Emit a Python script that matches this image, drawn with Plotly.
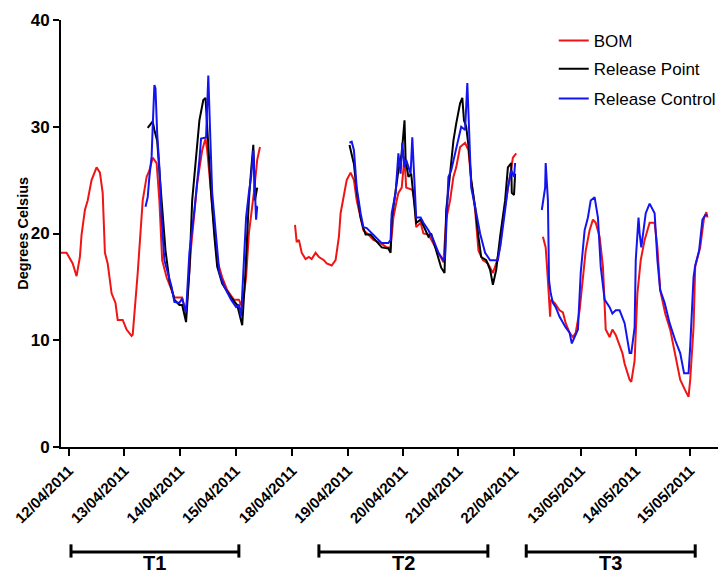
import plotly.graph_objects as go

# ---- tick labels (positions in plotted day units, axis is broken between blocks) ----
tick_pos = [0, 1, 2, 3, 4.02, 5.02, 6.02, 7.01, 8.01, 9.21, 10.2, 11.18]
tick_text = ["12/04/2011", "13/04/2011", "14/04/2011", "15/04/2011", "18/04/2011",
             "19/04/2011", "20/04/2011", "21/04/2011", "22/04/2011", "13/05/2011",
             "14/05/2011", "15/05/2011"]

# ---- BOM (red) ----
bom_x1 = [-0.14, -0.04, 0.07, 0.14, 0.20, 0.23, 0.29, 0.34, 0.41, 0.50, 0.56, 0.61, 0.65, 0.70,
          0.77, 0.84, 0.88, 0.97, 1.04, 1.13, 1.15, 1.24, 1.33, 1.40, 1.45, 1.51, 1.58, 1.63,
          1.68, 1.76, 1.85, 1.90, 1.99, 2.04, 2.11, 2.20, 2.31, 2.40, 2.46, 2.49, 2.56, 2.62,
          2.67, 2.76, 2.85, 2.97, 3.06, 3.12, 3.19, 3.24, 3.33, 3.39, 3.44]
bom_y1 = [18.2, 18.2, 17.2, 16.0, 17.8, 19.9, 22.2, 23.1, 25.0, 26.2, 25.7, 23.8, 18.2, 17.2,
          14.4, 13.5, 11.9, 11.9, 11.0, 10.4, 10.5, 16.3, 23.1, 25.3, 25.9, 27.1, 26.6, 23.1,
          17.5, 15.9, 14.7, 14.0, 14.0, 14.0, 12.4, 18.7, 24.7, 27.8, 28.9, 27.8, 23.8, 20.0,
          17.5, 15.9, 14.7, 13.8, 13.8, 13.1, 15.9, 20.0, 23.8, 26.9, 28.1]
bom_x2 = [4.07, 4.10, 4.14, 4.19, 4.26, 4.32, 4.37, 4.44, 4.50, 4.59, 4.64, 4.73, 4.80, 4.86,
          4.89, 4.95, 5.00, 5.07, 5.13, 5.18, 5.25, 5.30, 5.39, 5.48, 5.61, 5.72, 5.79, 5.84,
          5.90, 5.93, 5.99, 6.04, 6.07, 6.15, 6.18, 6.22, 6.25, 6.33, 6.38, 6.47, 6.56, 6.65,
          6.74, 6.79, 6.86, 6.92, 6.97, 7.04, 7.13, 7.19, 7.24, 7.31, 7.37, 7.45, 7.54, 7.63,
          7.69, 7.76, 7.81, 7.87, 7.94, 7.99, 8.05]
bom_y2 = [20.8, 19.2, 19.4, 18.2, 17.6, 17.8, 17.6, 18.2, 17.8, 17.5, 17.2, 17.0, 17.5, 19.7,
          21.9, 23.8, 25.0, 25.7, 25.0, 23.1, 21.5, 20.3, 19.9, 19.4, 19.1, 18.7, 18.7, 21.5,
          23.1, 23.8, 24.3, 27.2, 24.3, 24.2, 24.1, 23.1, 20.6, 21.0, 20.0, 19.9, 19.1, 18.2,
          17.3, 21.3, 23.1, 25.3, 26.2, 28.1, 28.5, 27.8, 25.0, 22.2, 18.4, 17.5, 17.2, 16.3,
          17.2, 18.7, 21.3, 23.1, 25.3, 27.1, 27.5]
bom_x3 = [8.53, 8.58, 8.62, 8.66, 8.67, 8.74, 8.83, 8.89, 8.94, 9.01, 9.07, 9.12, 9.19, 9.25,
          9.30, 9.37, 9.43, 9.48, 9.55, 9.61, 9.66, 9.73, 9.78, 9.84, 9.91, 9.96, 10.00, 10.09,
          10.12, 10.18, 10.23, 10.29, 10.36, 10.45, 10.54, 10.59, 10.64, 10.73, 10.82, 10.91,
          11.00, 11.09, 11.15, 11.18, 11.24, 11.27, 11.36, 11.43, 11.47, 11.49]
bom_y3 = [19.7, 18.7, 15.6, 12.2, 13.8, 13.5, 12.8, 12.6, 11.6, 10.7, 10.3, 10.7, 12.8, 15.9,
          18.4, 20.3, 21.3, 21.0, 19.7, 16.9, 11.0, 10.3, 11.0, 10.5, 9.6, 8.8, 7.8, 6.3,
          6.1, 8.1, 14.4, 17.5, 19.4, 21.0, 21.0, 18.7, 14.7, 12.5, 11.0, 8.8,
          6.3, 5.3, 4.7, 6.3, 11.2, 16.9, 18.7, 21.5, 22.0, 21.5]

# ---- Release Point (black) ----
rp_x1 = [1.42, 1.47, 1.51, 1.54, 1.59, 1.67, 1.74, 1.81, 1.90, 1.99, 2.04, 2.11, 2.17, 2.22,
         2.29, 2.35, 2.42, 2.46, 2.49, 2.56, 2.62, 2.67, 2.76, 2.85, 2.92, 3.03, 3.08, 3.12,
         3.17, 3.24, 3.28, 3.32, 3.35, 3.37, 3.39]
rp_y1 = [29.9, 30.3, 30.5, 29.7, 28.7, 23.1, 18.4, 15.6, 13.8, 13.3, 13.3, 11.7, 16.5, 23.1,
         26.9, 30.6, 32.5, 32.7, 30.0, 23.8, 19.7, 16.9, 15.3, 14.5, 14.0, 13.3, 12.2, 11.4,
         15.6, 23.1, 25.9, 28.3, 23.1, 23.8, 24.3]
rp_x2 = [5.05, 5.09, 5.13, 5.18, 5.25, 5.30, 5.34, 5.43, 5.54, 5.63, 5.75, 5.79, 5.81, 5.88,
         5.93, 5.99, 6.04, 6.06, 6.11, 6.16, 6.20, 6.25, 6.33, 6.42, 6.47, 6.52, 6.59, 6.65,
         6.70, 6.76, 6.79, 6.86, 6.92, 6.97, 7.04, 7.08, 7.11, 7.15, 7.20, 7.24, 7.31, 7.37,
         7.42, 7.51, 7.58, 7.63, 7.69, 7.76, 7.85, 7.90, 7.96, 7.97, 8.01, 8.03]
rp_y2 = [28.3, 27.5, 26.5, 24.0, 21.5, 20.5, 19.9, 19.9, 19.2, 18.7, 18.6, 18.2, 21.3, 23.8,
         25.9, 27.5, 30.6, 26.9, 25.3, 25.6, 23.8, 21.0, 21.3, 20.3, 19.7, 20.0, 18.7, 17.8,
         16.8, 16.3, 22.2, 25.6, 28.7, 30.3, 32.2, 32.7, 30.6, 30.0, 27.8, 25.0, 22.5, 19.7,
         17.8, 17.5, 16.6, 15.2, 16.6, 19.7, 23.1, 26.2, 26.6, 23.8, 23.6, 25.6]

# ---- Release Control (blue) ----
rc_x1 = [1.38, 1.42, 1.45, 1.49, 1.51, 1.54, 1.56, 1.59, 1.63, 1.67, 1.72, 1.77, 1.85, 1.90,
         1.99, 2.04, 2.11, 2.17, 2.26, 2.35, 2.38, 2.47, 2.51, 2.54, 2.58, 2.65, 2.71, 2.80,
         2.92, 3.01, 3.06, 3.10, 3.15, 3.19, 3.24, 3.28, 3.32, 3.35, 3.37, 3.39, 3.40]
rc_y1 = [22.5, 23.4, 25.3, 27.2, 30.0, 33.9, 33.6, 29.4, 26.2, 21.5, 17.5, 16.6, 15.0, 13.6,
         13.5, 13.9, 12.6, 18.2, 22.2, 26.9, 28.9, 29.0, 34.8, 30.0, 23.8, 19.7, 16.3, 15.0,
         13.8, 13.1, 13.3, 12.2, 17.5, 21.5, 23.8, 25.3, 27.8, 22.8, 21.3, 22.5, 22.5]
rc_x2 = [5.05, 5.09, 5.13, 5.18, 5.25, 5.30, 5.36, 5.45, 5.54, 5.63, 5.75, 5.79, 5.81, 5.88,
         5.93, 5.97, 6.00, 6.04, 6.07, 6.15, 6.18, 6.22, 6.25, 6.33, 6.38, 6.47, 6.56, 6.65,
         6.74, 6.77, 6.83, 6.88, 6.95, 7.01, 7.06, 7.13, 7.17, 7.20, 7.24, 7.31, 7.40, 7.49,
         7.58, 7.72, 7.78, 7.85, 7.90, 7.96, 8.01, 8.03]
rc_y2 = [28.5, 28.6, 27.8, 24.3, 21.9, 20.6, 20.5, 20.0, 19.6, 19.1, 19.1, 19.4, 21.9, 23.8,
         27.5, 25.6, 28.5, 26.2, 26.9, 25.6, 29.0, 23.8, 21.5, 21.5, 21.0, 20.3, 19.4, 18.2,
         17.5, 17.8, 25.3, 25.9, 27.5, 28.7, 30.0, 29.7, 34.1, 30.0, 24.3, 22.5, 20.0, 18.2,
         17.5, 17.5, 19.4, 22.2, 24.3, 25.9, 25.3, 26.6]
rc_x3 = [8.51, 8.57, 8.58, 8.62, 8.64, 8.67, 8.71, 8.76, 8.83, 8.89, 8.94, 9.01, 9.05, 9.10,
         9.16, 9.21, 9.28, 9.34, 9.39, 9.46, 9.52, 9.57, 9.64, 9.73, 9.78, 9.84, 9.91, 10.00,
         10.05, 10.09, 10.12, 10.18, 10.20, 10.25, 10.27, 10.30, 10.38, 10.45, 10.54, 10.59,
         10.64, 10.72, 10.81, 10.91, 11.00, 11.07, 11.15, 11.18, 11.24, 11.27, 11.34, 11.40,
         11.45, 11.49]
rc_y3 = [22.2, 24.3, 26.6, 23.1, 15.6, 14.4, 13.5, 13.1, 12.2, 11.6, 11.2, 10.7, 9.7, 10.3,
         11.0, 16.3, 20.3, 21.5, 23.1, 23.4, 21.5, 16.9, 13.8, 13.1, 12.5, 12.8, 12.8, 11.6,
         10.0, 8.8, 8.8, 11.2, 17.5, 21.5, 20.0, 18.7, 21.9, 22.8, 21.9, 17.5,
         14.7, 13.5, 11.6, 10.0, 8.8, 6.9, 6.9, 9.4, 15.9, 17.0, 18.4, 21.3,
         21.7, 21.7]

# ---- trial period brackets ----
trial_labels = ["T1", "T2", "T3"]
trial_start = [0.04, 4.50, 8.23]
trial_end = [3.06, 7.54, 11.27]


def join(*segs):
    xs, ys = [], []
    for sx, sy in segs:
        if xs:
            xs.append(None)
            ys.append(None)
        xs += sx
        ys += sy
    return xs, ys


fig = go.Figure()
bx, by = join((bom_x1, bom_y1), (bom_x2, bom_y2), (bom_x3, bom_y3))
kx, ky = join((rp_x1, rp_y1), (rp_x2, rp_y2))
cx, cy = join((rc_x1, rc_y1), (rc_x2, rc_y2), (rc_x3, rc_y3))

fig.add_trace(go.Scatter(x=bx, y=by, mode="lines", name="BOM", legend="legend",
                         line=dict(color="#f01414", width=2), connectgaps=False))
fig.add_trace(go.Scatter(x=kx, y=ky, mode="lines", name="Release Point", legend="legend2",
                         line=dict(color="#000000", width=2), connectgaps=False))
fig.add_trace(go.Scatter(x=cx, y=cy, mode="lines", name="Release Control", legend="legend3",
                         line=dict(color="#1414f0", width=2), connectgaps=False))

for lab, s, e in zip(trial_labels, trial_start, trial_end):
    fig.add_shape(type="line", xref="x", yref="paper", x0=s, x1=e, y0=-0.246, y1=-0.246,
                  line=dict(color="black", width=3))
    for xx in (s, e):
        fig.add_shape(type="line", xref="x", yref="paper", x0=xx, x1=xx, y0=-0.259, y1=-0.228,
                      line=dict(color="black", width=3))
    fig.add_annotation(x=(s + e) / 2, y=-0.2995, xref="x", yref="paper", text=lab,
                       yanchor="bottom", showarrow=False, borderpad=0,
                       font=dict(family="Arial", size=20, color="black", weight="bold"))

fig.add_annotation(x=-0.059, y=0.5, xref="paper", yref="paper", text="Degrees Celsius",
                   textangle=-90, showarrow=False, xanchor="center", yanchor="middle",
                   font=dict(family="Arial", size=14.5, color="black", weight="bold"))

leg_common = dict(x=0.75, xanchor="left", yanchor="middle", bgcolor="rgba(0,0,0,0)",
                  font=dict(family="Arial", size=17, color="black"), itemwidth=30)
fig.update_layout(
    width=721, height=575,
    margin=dict(l=61, r=0, t=20, b=128),
    paper_bgcolor="white", plot_bgcolor="white",
    showlegend=True,
    legend=dict(y=0.951, **leg_common),
    legend2=dict(y=0.885, **leg_common),
    legend3=dict(y=0.815, **leg_common),
    xaxis=dict(range=[-0.14, 11.68], tickmode="array", tickvals=tick_pos, ticktext=tick_text,
               tickangle=-45, showline=True, linecolor="black", linewidth=2,
               ticks="outside", ticklen=7, tickwidth=2, tickcolor="black",
               showgrid=False, zeroline=False,
               tickfont=dict(family="Arial", size=15, color="black", weight="bold")),
    yaxis=dict(range=[0, 40], tickvals=[0, 10, 20, 30, 40], showline=True, linecolor="black",
               linewidth=2, ticks="outside", ticklen=6, tickwidth=2, tickcolor="black",
               showgrid=False, zeroline=False,
               tickfont=dict(family="Arial", size=17, color="black", weight="bold")),
)

fig.write_html("out.html")
